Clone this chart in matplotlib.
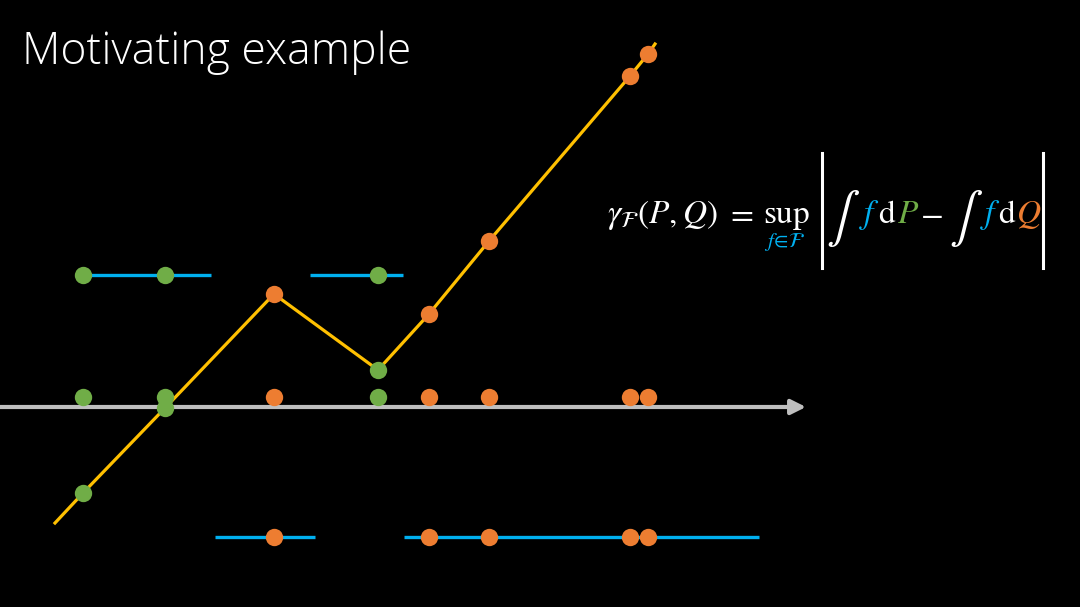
import numpy as np
import matplotlib
matplotlib.use('Agg')
import matplotlib.pyplot as plt

plt.rcParams['mathtext.fontset'] = 'stix'

# sample positions on the line (pixel-like units of the slide)
green_x = [83, 165, 378]
orange_x = [274, 429, 489, 630, 648]

# witness function f
f_x = [55, 83, 165, 274, 378, 429, 489, 630, 648, 655]
f_y = [523, 493, 408, 294, 370, 314, 241, 76, 54, 44]
green_fy = [493, 408, 370]
orange_fy = [294, 314, 241, 76, 54]

# blue horizontal pieces: (start, end)
upper_segs = [(83, 211), (310, 403)]
lower_segs = [(215, 315), (404, 759)]

AXIS_Y = 407
ROW_Y = 397
UPPER_Y = 275
LOWER_Y = 537

GREEN = '#70ad47'
ORANGE = '#ed7d31'
BLUE = '#00b0f0'
YELLOW = '#ffc000'
GREY = '#bfbfbf'


def main():
	fig = plt.figure(figsize=(10.8, 6.07), dpi=100, facecolor='black')
	ax = fig.add_axes([0, 0, 1, 1])
	ax.set_facecolor('black')
	ax.set_xlim(0, 1080)
	ax.set_ylim(607, 0)
	ax.axis('off')

	# axis arrow
	ax.annotate('', xy=(806, AXIS_Y), xytext=(0, AXIS_Y),
				arrowprops=dict(arrowstyle='-|>', color=GREY, lw=3, mutation_scale=22,
								shrinkA=0, shrinkB=0), zorder=1)

	# blue segments
	for a, b in upper_segs:
		ax.plot([a, b], [UPPER_Y, UPPER_Y], color=BLUE, lw=2.4, solid_capstyle='butt', zorder=2)
	for a, b in lower_segs:
		ax.plot([a, b], [LOWER_Y, LOWER_Y], color=BLUE, lw=2.4, solid_capstyle='butt', zorder=2)

	# yellow function
	ax.plot(f_x, f_y, color=YELLOW, lw=2.3, zorder=3)

	ms = 12.5
	# samples on the axis row
	ax.plot(green_x, [ROW_Y] * len(green_x), 'o', color=GREEN, ms=ms, mew=0, zorder=4)
	ax.plot(orange_x, [ROW_Y] * len(orange_x), 'o', color=ORANGE, ms=ms, mew=0, zorder=4)
	# samples on the function
	ax.plot(green_x, green_fy, 'o', color=GREEN, ms=ms, mew=0, zorder=4)
	ax.plot(orange_x, orange_fy, 'o', color=ORANGE, ms=ms, mew=0, zorder=4)
	# samples on the blue pieces
	ax.plot(green_x, [UPPER_Y] * len(green_x), 'o', color=GREEN, ms=ms, mew=0, zorder=4)
	ax.plot(orange_x, [LOWER_Y] * len(orange_x), 'o', color=ORANGE, ms=ms, mew=0, zorder=4)

	# title
	ax.text(22, 64, 'Motivating example', color='white', fontsize=32,
			family='Open Sans', fontweight='light', va='baseline', ha='left')

	# formula
	fs = 24
	base = 223
	ax.plot([822, 822], [153, 268], color='white', lw=2.2)
	ax.plot([1043, 1043], [153, 268], color='white', lw=2.2)
	ax.text(785, 247, r'$f\!\in\!\mathcal{F}$', color=BLUE, fontsize=15, va='baseline', ha='center')
	pieces = [
		(r'$\gamma_{\mathcal{F}}(P,Q)$', 'white', 607, fs, base),
		(r'$=$', 'white', 726, fs, base),
		(r'$\mathrm{sup}$', 'white', 763, fs, base),
		(r'$\int$', 'white', 826, 36, base + 8),
		(r'$f$', BLUE, 859, fs, base),
		(r'$\mathrm{d}$', 'white', 878, fs, base),
		(r'$P$', GREEN, 897, fs, base),
		(r'$-$', 'white', 920, fs, base),
		(r'$\int$', 'white', 949, 36, base + 8),
		(r'$f$', BLUE, 980, fs, base),
		(r'$\mathrm{d}$', 'white', 998, fs, base),
		(r'$Q$', ORANGE, 1016, fs, base),
	]
	for s, c, x, size, y in pieces:
		ax.text(x, y, s, color=c, fontsize=size, va='baseline', ha='left')

	fig.savefig('out.png', dpi=100, facecolor='black')


if __name__ == '__main__':
	main()
